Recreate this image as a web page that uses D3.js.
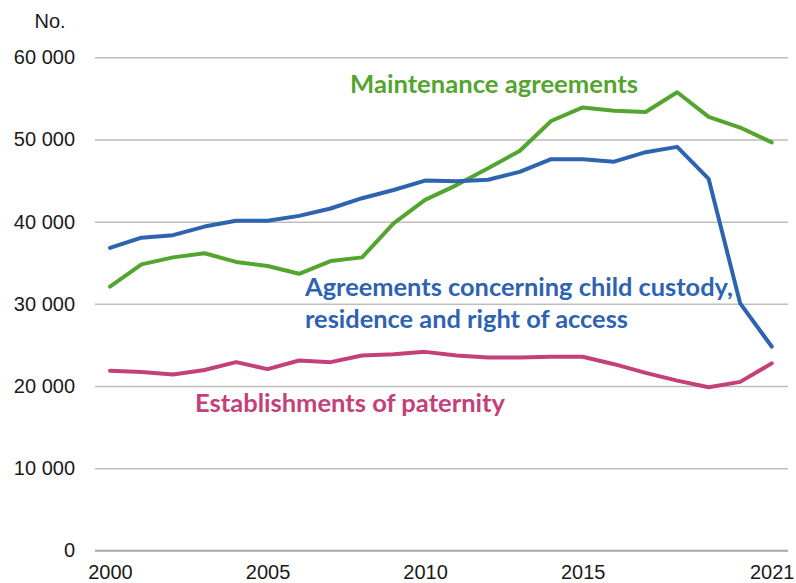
<!DOCTYPE html>
<html>
<head>
<meta charset="utf-8">
<script src="https://cdn.jsdelivr.net/npm/d3@7"></script>
<style>
  html, body { margin: 0; padding: 0; background: #fff; }
  svg { display: block; }
</style>
</head>
<body>
<svg id="chart" width="796" height="583"></svg>
<script>
// ---- Data ----
const years = [2000,2001,2002,2003,2004,2005,2006,2007,2008,2009,2010,2011,2012,2013,2014,2015,2016,2017,2018,2019,2020,2021];
const custody = [36800,38050,38350,39400,40100,40100,40700,41600,42850,43850,45000,44900,45100,46050,47600,47600,47300,48450,49100,45200,30050,24800];
const maintenance = [32100,34800,35650,36150,35100,34600,33650,35200,35650,39800,42650,44450,46500,48600,52250,53900,53500,53350,55750,52750,51450,49650];
const paternity = [21850,21700,21400,21950,22900,22050,23100,22900,23700,23850,24150,23700,23450,23450,23550,23550,22650,21600,20650,19850,20500,22750];
const yTicks = [0,10000,20000,30000,40000,50000,60000];
const xTicks = [2000,2005,2010,2015,2021];
const seriesNames = ["Maintenance agreements", "Agreements concerning child custody,", "residence and right of access", "Establishments of paternity"];
const unitLabel = "No.";

// ---- Layout ----
const svg = d3.select("#chart");
const colors = { maintenance: "#54a430", custody: "#2e63b2", paternity: "#c4407a" };
const x = d3.scaleLinear().domain([2000, 2021]).range([110, 771.7]);
const y = d3.scaleLinear().domain([0, 60000]).range([550.3, 57.3]);
const gridLeft = 95, gridRight = 788;
const loc = d3.formatLocale({ decimal: ".", thousands: " ", grouping: [3], currency: ["", ""] });
const fmt = loc.format(",");

// Y axis with gridlines
const yAxis = d3.axisLeft(y).tickValues(yTicks).tickFormat(fmt)
  .tickSize(gridRight - gridLeft).tickPadding(20);
const gy = svg.append("g").attr("transform", `translate(${gridRight},0)`).call(yAxis);
gy.select(".domain").remove();
gy.selectAll(".tick line").attr("stroke", "#bdbdbd").attr("stroke-width", 1.5);
gy.selectAll(".tick").filter(d => d === 0).select("line").attr("stroke", "#a6a6a6").attr("stroke-width", 2);
gy.selectAll(".tick text")
  .attr("fill", "#1a1a1a")
  .style("font-family", "'Liberation Sans', Arial, sans-serif")
  .style("font-size", "20px");

// X axis
const xAxis = d3.axisBottom(x).tickValues(xTicks).tickFormat(d3.format("d")).tickSize(0).tickPadding(0);
const gx = svg.append("g").attr("transform", `translate(0,${y(0)})`).call(xAxis);
gx.select(".domain").remove();
gx.selectAll(".tick text")
  .attr("y", 28.7).attr("dy", 0)
  .attr("fill", "#1a1a1a")
  .style("font-family", "'Liberation Sans', Arial, sans-serif")
  .style("font-size", "20px");

// Unit label
svg.append("text").attr("x", 50).attr("y", 28).attr("text-anchor", "middle")
  .attr("fill", "#1a1a1a")
  .style("font-family", "'Liberation Sans', Arial, sans-serif").style("font-size", "20px")
  .text(unitLabel);

// Lines
const line = d3.line().x((d, i) => x(years[i])).y(d => y(d));
function drawLine(values, color) {
  svg.append("path").datum(values)
    .attr("fill", "none").attr("stroke", color).attr("stroke-width", 4)
    .attr("stroke-linejoin", "round").attr("stroke-linecap", "round")
    .attr("d", line);
}
drawLine(paternity, colors.paternity);
drawLine(maintenance, colors.maintenance);
drawLine(custody, colors.custody);

// Series labels
function label(txt, lx, ly, color, w) {
  return svg.append("text").attr("x", lx).attr("y", ly).attr("fill", color)
    .style("font-family", "Lato, 'Open Sans', sans-serif").style("font-weight", 700)
    .style("font-size", "25.5px")
    .attr("textLength", w).attr("lengthAdjust", "spacingAndGlyphs")
    .text(txt);
}
label(seriesNames[0], 350, 93, colors.maintenance, 288);
label(seriesNames[1], 305, 296, colors.custody, 428);
label(seriesNames[2], 305, 328, colors.custody, 323);
label(seriesNames[3], 195, 412, colors.paternity, 310);
</script>
</body>
</html>
